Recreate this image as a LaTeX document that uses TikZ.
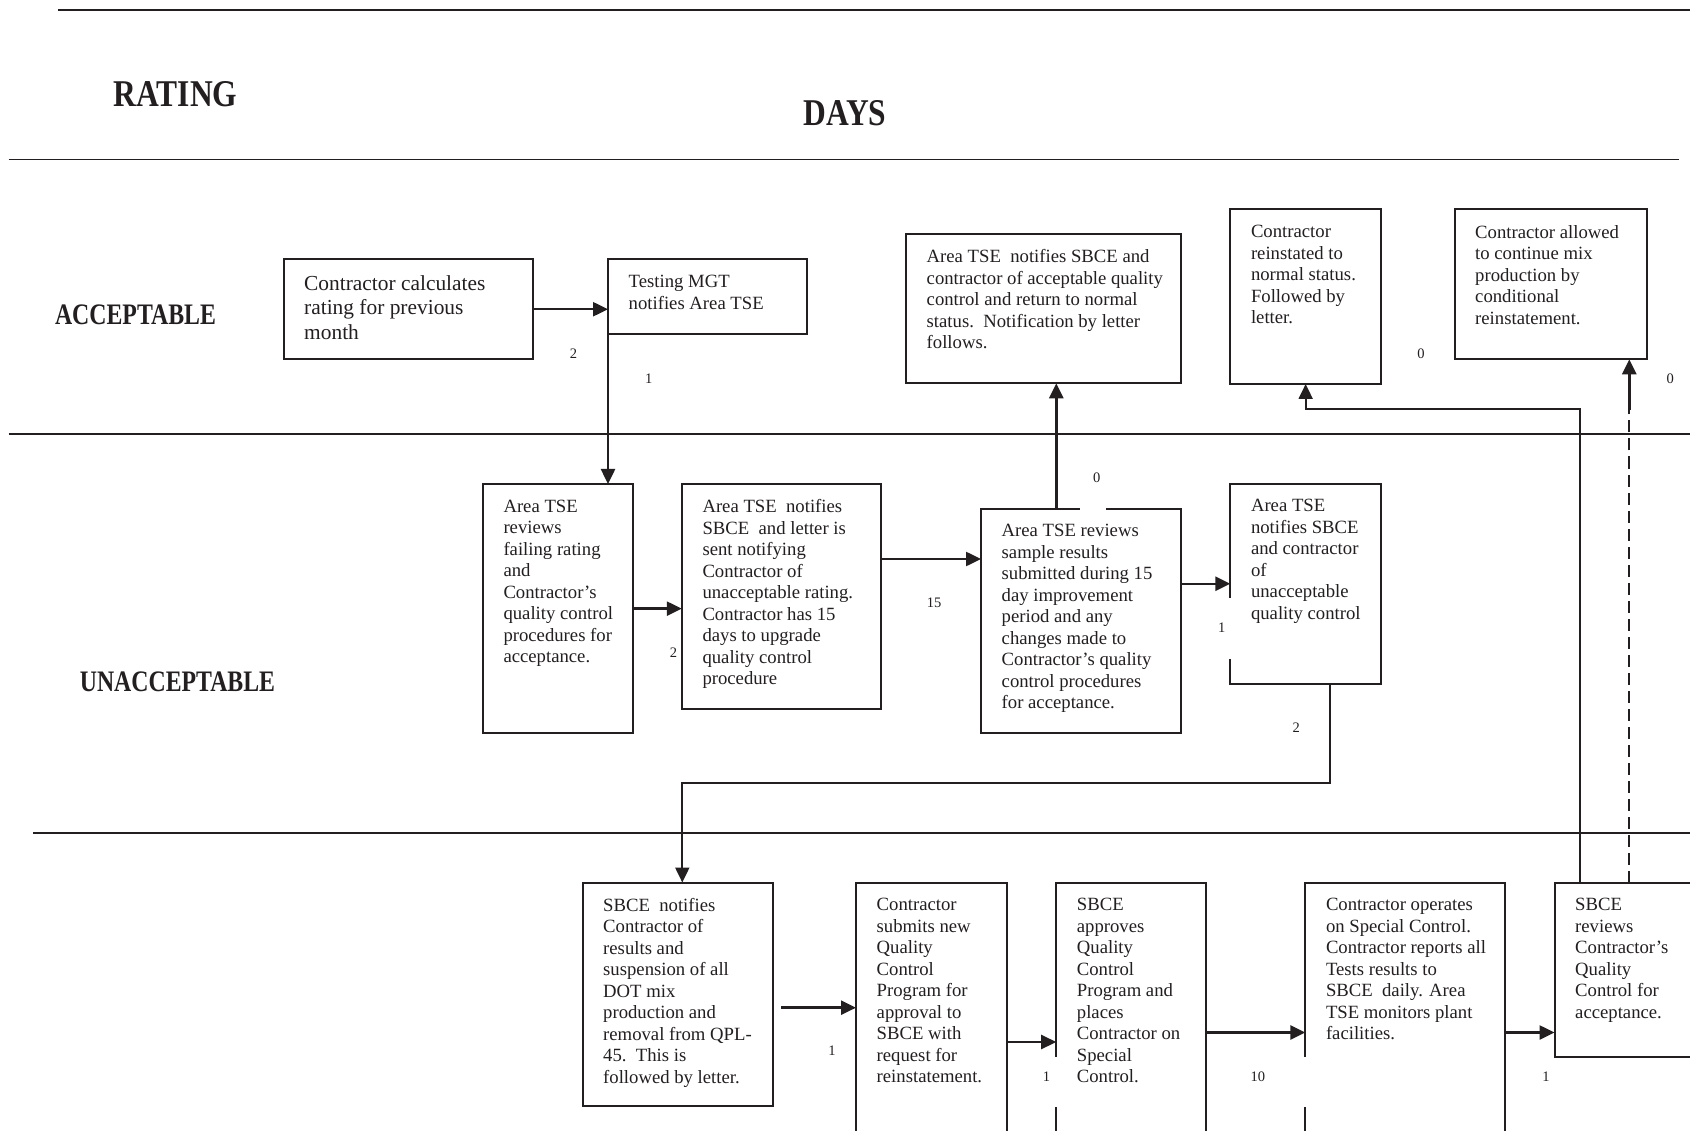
\documentclass[tikz,border=0pt]{standalone}
\usepackage{fontspec}
\usepackage{graphicx}
\setmainfont{Liberation Serif}
\usetikzlibrary{arrows.meta,calc}
\definecolor{ink}{RGB}{35,31,32}
\newcommand\flowbox[5]{\node[bx, anchor=north west, minimum width={#4-#2}, minimum height={#5-#3}] (#1) at (#2,#3) {};}
\newcommand\flowtext[3][txt]{\node[#1, anchor=north west] (#2-t) at ([xshift=20.5pt,yshift=-15.5pt]#2.north west) {#3};}
\begin{document}
\begin{tikzpicture}[x=1pt,y=-1pt,
  bx/.style={draw=ink, line width=2pt, inner sep=0pt, outer sep=0pt, rectangle},
  txt/.style={align=left, inner sep=0pt, text=ink, font=\fontsize{18.7}{21.5}\selectfont},
  bigtxt/.style={txt, font=\fontsize{21.4}{24.5}\selectfont},
  hdr/.style={inner sep=0pt, text=ink, font=\bfseries\fontsize{31.5}{36}\selectfont},
  band/.style={inner sep=0pt, text=ink, font=\bfseries\fontsize{23.8}{28}\selectfont},
  num/.style={inner sep=0pt, text=ink, font=\fontsize{14.5}{17}\selectfont},
  sep/.style={draw=ink, line width=1.7pt},
  arr/.style={draw=ink, line width=2.5pt, -{Triangle[length=15pt,width=14pt]}},
  arrthin/.style={draw=ink, line width=2pt, -{Triangle[length=15pt,width=14pt]}}]
\useasboundingbox (0,0) rectangle (1690,1131);
\fill[white] (0,0) rectangle (1690,1131);
\clip (0,0) rectangle (1690,1131);

% separator lines
\draw[sep] (58,10) -- (1690,10);
\draw[sep] (8.6,159.5) -- (1679,159.5);
\draw[sep] (8.6,434) -- (1690,434);
\draw[sep] (33,833) -- (1690,833);

% headers
\node[hdr] (rating) at (175.5,94) {\scalebox{1}[1.2]{RATING}};
\node[hdr] (days) at (845,113) {\scalebox{1}[1.2]{DAYS}};
\node[band] (acc) at (135.5,314.5) {\scalebox{1}[1.25]{ACCEPTABLE}};
\node[band] (unacc) at (177.5,682) {\scalebox{1}[1.25]{UNACCEPTABLE}};

% boxes
\flowbox{a1}{283.5}{259.5}{532.5}{359}
\flowbox{a2}{608}{259.5}{806.5}{334}
\flowbox{a3}{906}{234}{1181}{383.3}
\flowbox{a4}{1230.3}{209.5}{1381}{384}
\flowbox{a5}{1454.5}{209.5}{1647.3}{359.3}
\flowbox{u1}{482.8}{484}{632.7}{733.3}
\flowbox{u2}{681.8}{484}{881}{708.5}
\flowbox{u3}{981}{508.7}{1181}{733}
\flowbox{u4}{1230.3}{483.8}{1380.7}{683.7}
\flowbox{b1}{582.5}{882.5}{772.5}{1106}
\flowbox{b2}{856}{882.5}{1006.7}{1150}
\flowbox{b3}{1056.2}{882.5}{1206}{1150}
\flowbox{b4}{1305.3}{882.5}{1505.3}{1150}
\flowbox{b5}{1554.5}{882.5}{1710}{1057.3}

% gaps left by label backgrounds
\fill[white] (1080,505.5) rectangle (1106,512);
\fill[white] (1228,598) rectangle (1232.5,659);
\fill[white] (1054,1057) rectangle (1058.5,1107);
\fill[white] (1303,1057) rectangle (1307.5,1107);

% texts
\flowtext[bigtxt]{a1}{Contractor calculates\\rating for previous\\month}
\flowtext{a2}{Testing MGT\\notifies Area TSE}
\flowtext{a3}{Area TSE\ \ notifies SBCE and\\contractor of acceptable quality\\control and return to normal\\status.\ \ Notification by letter\\follows.}
\flowtext{a4}{Contractor\\reinstated to\\normal status.\\Followed by\\letter.}
\flowtext{a5}{Contractor allowed\\to continue mix\\production by\\conditional\\reinstatement.}
\flowtext{u1}{Area TSE\\reviews\\failing rating\\and\\Contractor’s\\quality control\\procedures for\\acceptance.}
\flowtext{u2}{Area TSE\ \ notifies\\SBCE\ \ and letter is\\sent notifying\\Contractor of\\unacceptable rating.\\Contractor has 15\\days to upgrade\\quality control\\procedure}
\flowtext{u3}{Area TSE reviews\\sample results\\submitted during 15\\day improvement\\period and any\\changes made to\\Contractor’s quality\\control procedures\\for acceptance.}
\flowtext{u4}{Area TSE\\notifies SBCE\\and contractor\\of\\unacceptable\\quality control}
\flowtext{b1}{SBCE\ \ notifies\\Contractor of\\results and\\suspension of all\\DOT mix\\production and\\removal from QPL-\\45.\ \ This is\\followed by letter.}
\flowtext{b2}{Contractor\\submits new\\Quality\\Control\\Program for\\approval to\\SBCE with\\request for\\reinstatement.}
\flowtext{b3}{SBCE\\approves\\Quality\\Control\\Program and\\places\\Contractor on\\Special\\Control.}
\flowtext{b4}{Contractor operates\\on Special Control.\\Contractor reports all\\Tests results to\\SBCE\ \ daily. Area\\TSE monitors plant\\facilities.}
\flowtext{b5}{SBCE\\reviews\\Contractor’s\\Quality\\Control for\\acceptance.}

% helper coordinates
\coordinate (yc4) at (0,559);
\coordinate (xc5) at (1056.3,0);
\coordinate (xc7a) at (1330,0);
\coordinate (yc7) at (0,783);
\coordinate (xc7b) at (682.3,0);
\coordinate (c8s) at (781,1007.7);
\coordinate (yc9) at (0,1042);
\coordinate (yc10) at (0,1032.5);
\coordinate (xc12) at (1579.7,0);
\coordinate (yc12) at (0,409);
\coordinate (xc13) at (1629.3,0);
\coordinate (yc13) at (0,410);

% connectors
\draw[arr] (a1.east) -- (a1.east -| a2.west);
\draw[arr] (a2.south west) -- (a2.south west |- u1.north);
\draw[arr] (u1.east) -- (u1.east -| u2.west);
\draw[arr] (u2.east |- yc4) -- (u3.west |- yc4);
\draw[arr] (u3.north -| xc5) -- (a3.south -| xc5);
\draw[arr] (u3.east |- u4.west) -- (u4.west);
\draw[arrthin] (u4.south -| xc7a) -- (xc7a |- yc7) -- (xc7b |- yc7) -- (b1.north -| xc7b);
\draw[arr] (c8s) -- (c8s -| b2.west);
\draw[arr] (b2.east |- yc9) -- (b3.west |- yc9);
\draw[arr] (b3.east |- yc10) -- (b4.west |- yc10);
\draw[arr] (b4.east |- yc10) -- (b5.west |- yc10);
\draw[arrthin] (b5.north -| xc12) -- (xc12 |- yc12) -- (a4.south |- yc12) -- (a4.south);
\draw[draw=ink, line width=2.2pt, dash pattern=on 12pt off 6pt] (b5.north -| xc13) -- (xc13 |- yc13);
\draw[arr] (xc13 |- yc13) -- (a5.south -| xc13);

% day numbers
\node[num] (n1) at (573.4,354) {2};
\node[num] (n2) at (648.8,378.5) {1};
\node[num] (n3) at (1096.7,477.7) {0};
\node[num] (n4) at (1421,353.3) {0};
\node[num] (n5) at (1670.3,379) {0};
\node[num] (n6) at (673.5,653) {2};
\node[num] (n7) at (934,602.7) {15};
\node[num] (n8) at (1221.7,627.7) {1};
\node[num] (n9) at (1296.3,727.3) {2};
\node[num] (n10) at (832,1051) {1};
\node[num] (n11) at (1046.5,1077) {1};
\node[num] (n12) at (1257.8,1077) {10};
\node[num] (n13) at (1546,1077) {1};
\end{tikzpicture}
\end{document}
